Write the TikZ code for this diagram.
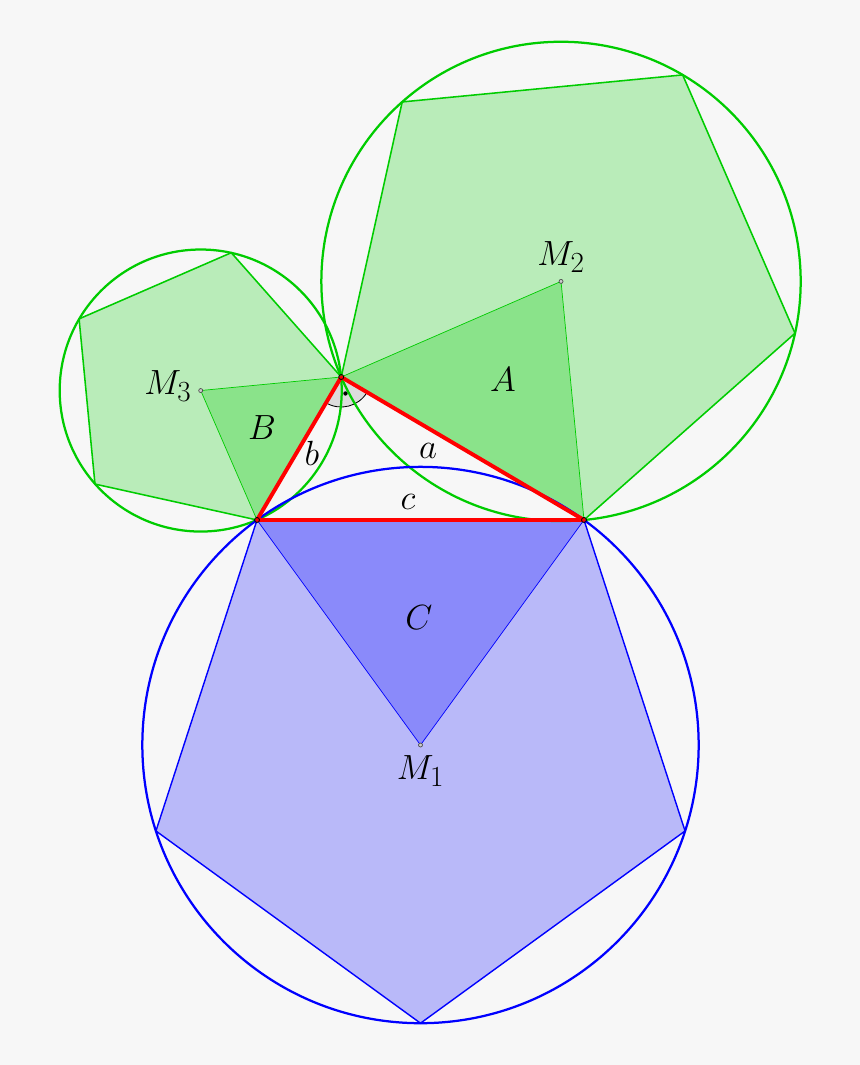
\documentclass[tikz,border=0pt]{standalone}
\usepackage{xcolor}
\usepackage{tikz}
\usetikzlibrary{calc, positioning, through}
\definecolor{pentgreen}{RGB}{0,204,0}
\definecolor{pentblue}{RGB}{0,0,255}
\definecolor{paper}{HTML}{F7F7F7}
\definecolor{markgray}{HTML}{DCDCDC}

\begin{document}
\begin{tikzpicture}[
    x=0.025cm, y=0.025cm,
    every node/.style={font=\Huge},
    greenface/.style={
        draw=pentgreen,
        fill=pentgreen,
        fill opacity=0.25,
        line width=1.1pt
    },
    blueface/.style={
        draw=pentblue,
        fill=pentblue,
        fill opacity=0.25,
        line width=1pt
    },
    greenwedge/.style={
        draw=pentgreen,
        fill=pentgreen,
        fill opacity=0.25,
        line width=0.5pt
    },
    bluewedge/.style={
        draw=pentblue,
        fill=pentblue,
        fill opacity=0.25,
        line width=0.5pt
    },
    greencircle/.style={draw=pentgreen, line width=1.6pt},
    bluecircle/.style={draw=pentblue, line width=1.6pt},
    redside/.style={draw=red, line width=2.8pt, line join=round},
    vertexdot/.style={draw=black, line width=0.6pt},
    centerdot/.style={draw=black!70, fill=gray!40, line width=0.5pt}
]

% Canvas
\useasboundingbox (0,0) rectangle (860,1065);
\fill[paper] (0,0) rectangle (860,1065);

% Right triangle
\coordinate (L) at (257,545);
\coordinate (R) at (584,545);
\coordinate (T) at ($(L)+(59.5:{327*cos(59.5)})$);

% Centres of the pentagons
\coordinate (M1) at ($(R)!0.5!(L)!1.37638!90:(L)$);
\coordinate (M2) at ($(T)!0.5!(R)!1.37638!90:(R)$);
\coordinate (M3) at ($(L)!0.5!(T)!1.37638!90:(T)$);

% Remaining corners
\foreach \k/\ang in {3/144, 4/216, 5/288} {
    \coordinate (A\k) at ($(M2)!1!\ang:(T)$);
    \coordinate (B\k) at ($(M3)!1!\ang:(L)$);
    \coordinate (C\k) at ($(M1)!1!\ang:(R)$);
}

% Pentagons
\draw[greenface] (T) -- (R) -- (A3) -- (A4) -- (A5) -- cycle;
\draw[greenface] (L) -- (T) -- (B3) -- (B4) -- (B5) -- cycle;
\draw[blueface] (R) -- (L) -- (C3) -- (C4) -- (C5) -- cycle;

% Triangles to the centres
\draw[greenwedge] (M2) -- (T) -- (R) -- cycle;
\draw[greenwedge] (M3) -- (L) -- (T) -- cycle;
\draw[bluewedge] (M1) -- (R) -- (L) -- cycle;

% Right angle mark
\fill[markgray] (T) -- ++(239.5:30) arc[start angle=239.5, end angle=329.5, radius=30] -- cycle;
\draw[line width=0.6pt] (T) ++(239.5:30) arc[start angle=239.5, end angle=329.5, radius=30];
\fill (T) ++(284.5:17) circle[radius=2.2];

% Circumcircles
\node[greencircle, circle through=(T)] (circA) at (M2) {};
\node[greencircle, circle through=(L)] (circB) at (M3) {};
\node[bluecircle, circle through=(R)] (circC) at (M1) {};

% Triangle sides
\draw[redside] (L) -- (R) -- (T) -- cycle;

% Points
\foreach \p in {L, R, T}
    \draw[vertexdot] (\p) circle[radius=2.5];
\foreach \p in {M1, M2, M3}
    \filldraw[centerdot] (\p) circle[radius=2];

% Labels
\node[below=4pt of M1] (labM1) {$M_1$};
\node[above=3pt of M2] (labM2) {$M_2$};
\node[left=3pt of M3, yshift=3pt] (labM3) {$M_3$};
\node (labA) at (503,685) {$A$};
\node (labB) at (262,637) {$B$};
\node (labC) at (419,447) {$C$};
\node (laba) at (428,614) {$a$};
\node (labb) at (312,612) {$b$};
\node (labc) at (408,563) {$c$};

\end{tikzpicture}
\end{document}
